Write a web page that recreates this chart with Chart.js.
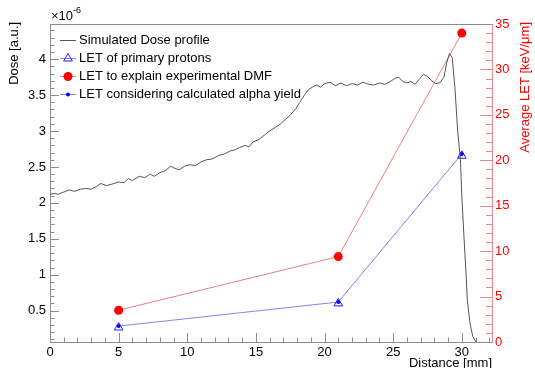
<!DOCTYPE html>
<html>
<head>
<meta charset="utf-8">
<script src="https://cdn.jsdelivr.net/npm/chart.js@4"></script>
<style>
html, body { margin: 0; padding: 0; background: #fff; }
</style>
</head>
<body>
<canvas id="doseChart" width="535" height="368"></canvas>
<script>
// Simulated dose profile (dose in units of 1e-6 a.u.)
const doseX = [0, 0.3, 0.6, 1.0, 1.4, 1.8, 2.2, 2.6, 3.0, 3.4, 3.7, 4.1, 4.5, 5.0, 5.4, 5.7, 6.0, 6.5, 6.9, 7.3,
    7.6, 8.0, 8.4, 8.8, 9.1, 9.4, 9.8, 10.2, 10.6, 11.0, 11.4, 11.8, 12.3, 12.7, 13.1, 13.5, 13.8, 14.2, 14.5, 14.8,
    15.2, 15.6, 16.0, 16.4, 16.8, 17.2, 17.5, 17.9, 18.2, 18.5, 18.8, 19.1, 19.4, 19.7, 20.0, 20.4, 20.8, 21.2, 21.6, 22.0,
    22.4, 22.8, 23.2, 23.6, 24.0, 24.4, 24.8, 25.1, 25.4, 25.7, 26.0, 26.3, 26.6, 26.9, 27.2, 27.5, 27.8, 28.1, 28.4, 28.7,
    28.9, 29.1, 29.3, 29.5, 29.7, 29.9, 30.0, 30.15, 30.3, 30.4, 30.6, 30.8, 31.0, 31.3, 31.6];
const doseY = [2.12, 2.13, 2.12, 2.15, 2.18, 2.16, 2.19, 2.20, 2.19, 2.23, 2.27, 2.24, 2.26, 2.29, 2.28, 2.34, 2.31, 2.37, 2.35, 2.40,
    2.37, 2.42, 2.45, 2.51, 2.48, 2.46, 2.51, 2.53, 2.52, 2.57, 2.60, 2.61, 2.66, 2.68, 2.72, 2.74, 2.77, 2.80, 2.78, 2.85,
    2.88, 2.94, 3.00, 3.05, 3.10, 3.17, 3.22, 3.31, 3.40, 3.49, 3.57, 3.61, 3.64, 3.61, 3.66, 3.68, 3.63, 3.67, 3.63, 3.66,
    3.64, 3.68, 3.65, 3.64, 3.67, 3.65, 3.69, 3.73, 3.75, 3.69, 3.67, 3.69, 3.65, 3.72, 3.79, 3.76, 3.70, 3.66, 3.67, 3.75,
    3.95, 4.08, 4.02, 3.60, 3.00, 2.60, 2.10, 1.55, 1.05, 0.65, 0.32, 0.14, 0.07, 0.04, 0.03];

// LET points (keV/um)
const letX = [5, 21, 30];
const letPrimary = [1.6, 4.25, 20.5];
const letDMF = [3.5, 9.4, 34.0];
const letAlpha = [1.75, 4.4, 20.7];

const xTicks = [0, 5, 10, 15, 20, 25, 30];
const doseTicks = [0.5, 1, 1.5, 2, 2.5, 3, 3.5, 4];
const letTicks = [0, 5, 10, 15, 20, 25, 30, 35];

const legendLabels = ['Simulated Dose profile', 'LET of primary protons', 'LET to explain experimental DMF',
    'LET considering calculated alpha yield'];

const FONT = "'Liberation Sans', Arial, Helvetica, sans-serif";
const pts = (xs, ys) => xs.map((x, i) => ({ x: x, y: ys[i] }));

// ROOT-style inward ticks, frame, titles, exponent and legend
const rootDecor = {
    id: 'rootDecor',
    beforeDatasetsDraw(chart) {
        const ctx = chart.ctx;
        const a = chart.chartArea;
        const sx = chart.scales.x, sy = chart.scales.y, sr = chart.scales.y2;
        ctx.save();
        ctx.lineWidth = 1;
        ctx.strokeStyle = '#8c8c8c';
        ctx.beginPath();
        ctx.moveTo(a.left, a.top + 0.5);
        ctx.lineTo(a.right, a.top + 0.5);
        // bottom axis ticks, minor every 1 mm
        for (let v = 0; v <= 32; v++) {
            const px = Math.round(sx.getPixelForValue(v)) + 0.5;
            const len = v % 5 === 0 ? 9 : 4.5;
            ctx.moveTo(px, a.bottom);
            ctx.lineTo(px, a.bottom - len);
        }
        // left axis ticks, minor every 0.1
        for (let i = 1; i <= 44; i++) {
            const v = i / 10;
            if (v < sy.min || v > sy.max) continue;
            const py = Math.round(sy.getPixelForValue(v)) + 0.5;
            const len = i % 5 === 0 ? 9 : 4.5;
            ctx.moveTo(a.left, py);
            ctx.lineTo(a.left + len, py);
        }
        ctx.stroke();
        // right axis ticks
        ctx.strokeStyle = '#e88a8a';
        ctx.beginPath();
        for (let v = 1; v < 35; v++) {
            const py = Math.round(sr.getPixelForValue(v)) + 0.5;
            const len = v % 5 === 0 ? 12 : 6;
            ctx.moveTo(a.right, py);
            ctx.lineTo(a.right - len, py);
        }
        ctx.stroke();
        ctx.restore();
    },
    afterDraw(chart) {
        const ctx = chart.ctx;
        const a = chart.chartArea;
        ctx.save();
        ctx.fillStyle = '#000';
        ctx.textBaseline = 'alphabetic';
        ctx.font = '13px ' + FONT;
        ctx.fillText('\u00d710', a.left + 1, a.top - 4);
        const w = ctx.measureText('\u00d710').width;
        ctx.font = '9px ' + FONT;
        ctx.fillText('-6', a.left + 1 + w, a.top - 11);

        // x title, right aligned
        ctx.font = '13px ' + FONT;
        ctx.textAlign = 'right';
        ctx.textBaseline = 'middle';
        ctx.fillText('Distance [mm]', a.right, 363);
        ctx.restore();

        // y titles, reading bottom to top, aligned to the top of the frame
        [['Dose [a.u.]', 14, '#000'], ['Average LET [keV/\u03bcm]', 525, '#ff0000']].forEach(t => {
            ctx.save();
            ctx.fillStyle = t[2];
            ctx.font = '13px ' + FONT;
            ctx.translate(t[1], a.top - 2);
            ctx.rotate(-Math.PI / 2);
            ctx.textAlign = 'right';
            ctx.textBaseline = 'middle';
            ctx.fillText(t[0], 0, 0);
            ctx.restore();
        });

        // legend
        ctx.save();
        const rows = [40, 58, 76, 94];
        const x0 = 60, x1 = 76, xm = 68;
        ctx.lineWidth = 1;
        ctx.font = '13px ' + FONT;
        ctx.textBaseline = 'middle';
        chart.data.datasets.forEach((ds, i) => {
            const y = rows[i] + 0.5;
            ctx.strokeStyle = ds.borderColor;
            ctx.beginPath();
            ctx.moveTo(x0, y);
            ctx.lineTo(x1, y);
            ctx.stroke();
            if (ds.pointRadius > 0) {
                ctx.fillStyle = ds.pointBackgroundColor;
                ctx.strokeStyle = ds.pointBorderColor;
                ctx.lineWidth = ds.pointBorderWidth;
                Chart.helpers.drawPoint(ctx, { pointStyle: ds.pointStyle, radius: ds.pointRadius,
                    borderWidth: ds.pointBorderWidth, rotation: 0 }, xm, y);
                ctx.lineWidth = 1;
            }
            ctx.fillStyle = '#000';
            ctx.fillText(legendLabels[i], 79, y);
        });
        ctx.restore();
    }
};

const tickFont = { family: FONT, size: 13 };
const plainLabel = v => String(v);

new Chart(document.getElementById('doseChart'), {
    type: 'scatter',
    data: {
        datasets: [{
            label: legendLabels[0],
            data: pts(doseX, doseY),
            yAxisID: 'y',
            showLine: true,
            borderColor: '#555555',
            borderWidth: 1,
            pointRadius: 0,
            tension: 0
        }, {
            label: legendLabels[1],
            data: pts(letX, letPrimary),
            yAxisID: 'y2',
            showLine: false,
            borderColor: '#8585e8',
            borderWidth: 1,
            pointStyle: 'triangle',
            pointRadius: 5,
            pointBorderWidth: 1,
            pointBorderColor: '#2020ff',
            pointBackgroundColor: 'rgba(255,255,255,0)'
        }, {
            label: legendLabels[2],
            data: pts(letX, letDMF),
            yAxisID: 'y2',
            showLine: true,
            borderColor: '#e88080',
            borderWidth: 1,
            pointStyle: 'circle',
            pointRadius: 4.5,
            pointBorderWidth: 0,
            pointBorderColor: '#ff0000',
            pointBackgroundColor: '#ff0000'
        }, {
            label: legendLabels[3],
            data: pts(letX, letAlpha),
            yAxisID: 'y2',
            showLine: true,
            borderColor: '#8585e8',
            borderWidth: 1,
            pointStyle: 'circle',
            pointRadius: 2,
            pointBorderWidth: 0,
            pointBorderColor: '#0000ff',
            pointBackgroundColor: '#0000ff'
        }]
    },
    options: {
        responsive: false,
        animation: false,
        layout: { padding: { top: 24, left: 0, right: 0, bottom: 0 } },
        plugins: { legend: { display: false }, tooltip: { enabled: false } },
        scales: {
            x: {
                type: 'linear',
                min: 0,
                max: 32.2,
                grid: { display: false, drawTicks: false, tickLength: 0 },
                border: { display: true, color: '#8c8c8c' },
                afterBuildTicks: s => { s.ticks = xTicks.map(v => ({ value: v })); },
                afterFit: s => { s.height = 26; },
                ticks: { color: '#000', padding: 3, maxRotation: 0, font: tickFont, callback: plainLabel }
            },
            y: {
                type: 'linear',
                position: 'left',
                min: 0.063,
                max: 4.49,
                grid: { display: false, drawTicks: false, tickLength: 0 },
                border: { display: true, color: '#8c8c8c' },
                afterBuildTicks: s => { s.ticks = doseTicks.map(v => ({ value: v })); },
                afterFit: s => { s.width = 50; },
                ticks: { color: '#000', padding: 4, font: tickFont, callback: plainLabel }
            },
            y2: {
                type: 'linear',
                position: 'right',
                min: 0,
                max: 35,
                grid: { display: false, drawTicks: false, tickLength: 0 },
                border: { display: true, color: '#e88a8a' },
                afterBuildTicks: s => { s.ticks = letTicks.map(v => ({ value: v })); },
                afterFit: s => { s.width = 43; },
                ticks: { color: '#ff0000', padding: 3, font: tickFont, callback: plainLabel }
            }
        }
    },
    plugins: [rootDecor]
});
</script>
</body>
</html>
